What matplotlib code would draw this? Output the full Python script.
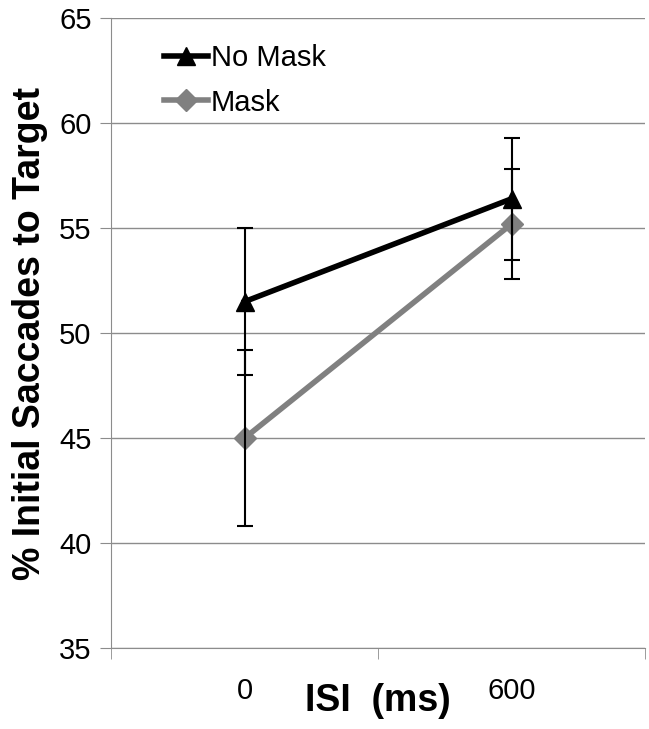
import matplotlib.pyplot as plt
import numpy as np

plt.rcParams['font.family'] = ['Liberation Sans', 'DejaVu Sans']

isi_labels = ['0', '600']
no_mask = [51.5, 56.4]
no_mask_err = [3.5, 2.9]
mask = [45.0, 55.2]
mask_err = [4.2, 2.6]

x = np.arange(len(isi_labels))

fig = plt.figure(figsize=(6.49, 7.29), dpi=100)
ax = fig.add_axes([0.171, 0.111, 0.823, 0.864])

ax.set_ylim(35, 65)
ax.set_xlim(-0.5, 1.5)
ax.set_yticks(range(35, 66, 5))
ax.yaxis.grid(True, color='#8c8c8c', linewidth=1)
ax.set_axisbelow(True)

ax.plot(x, no_mask, color='black', linewidth=4, marker='^', markersize=13, label='No Mask', zorder=3)
ax.plot(x, mask, color='#808080', linewidth=4, marker='D', markersize=11, label='Mask', zorder=4)
ax.errorbar(x, no_mask, yerr=no_mask_err, fmt='none', ecolor='black', elinewidth=1.5, capsize=6, capthick=1.5, zorder=5)
ax.errorbar(x, mask, yerr=mask_err, fmt='none', ecolor='black', elinewidth=1.5, capsize=6, capthick=1.5, zorder=5)

for s in ['top', 'right']:
    ax.spines[s].set_visible(False)
for s in ['left', 'bottom']:
    ax.spines[s].set_color('#8c8c8c')

ax.set_xticks(x)
ax.set_xticklabels(isi_labels, fontsize=21)
ax.set_xticks([-0.5, 0.5, 1.5], minor=True)
ax.tick_params(axis='x', which='major', length=0, pad=21)
ax.tick_params(axis='x', which='minor', length=8, color='#8c8c8c', direction='out')
ax.tick_params(axis='y', length=8, color='#8c8c8c', labelsize=21, pad=6)

ax.set_ylabel('% Initial Saccades to Target', fontsize=27, fontweight='bold', labelpad=8)
ax.set_xlabel('ISI  (ms)', fontsize=27, fontweight='bold', labelpad=-16)

ax.legend(loc='upper left', bbox_to_anchor=(0.05, 1.0), frameon=False, fontsize=21,
          handlelength=1.5, handletextpad=0.1, labelspacing=0.55)

fig.savefig('out.png', dpi=100)
